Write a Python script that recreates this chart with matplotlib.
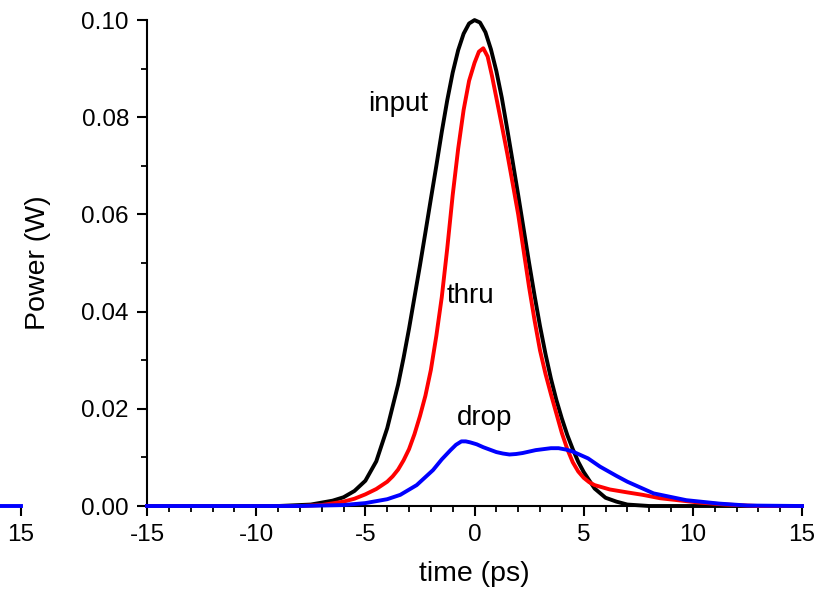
#!/usr/bin/env python
"""Pulse power at input, thru and drop ports."""

import matplotlib.pyplot as plt
from matplotlib.ticker import MultipleLocator, FormatStrFormatter

# values
input_t = [-15, -9, -7.5, -6.5, -6, -5.5, -5, -4.5, -4, -3.5, -3.25, -3, -2.75, -2.5,
           -2.25, -2, -1.75, -1.5, -1.25, -1, -0.75, -0.5, -0.25, 0, 0.25, 0.5, 0.75, 1,
           1.25, 1.5, 1.75, 2, 2.25, 2.5, 2.75, 3, 3.25, 3.5, 3.75, 4, 4.25, 4.5, 4.75, 5,
           5.5, 6, 6.5, 7, 8, 15]
input_p = [0, 0, 0.0003, 0.0011, 0.0018, 0.0031, 0.0052, 0.0092, 0.0160, 0.0250, 0.0305,
           0.0365, 0.0430, 0.0495, 0.0563, 0.0632, 0.0700, 0.0770, 0.0835, 0.0892, 0.0938,
           0.0972, 0.0993, 0.1000, 0.0995, 0.0975, 0.0940, 0.0895, 0.0840, 0.0775, 0.0708,
           0.0640, 0.0570, 0.0500, 0.0433, 0.0370, 0.0313, 0.0262, 0.0218, 0.0180, 0.0146,
           0.0117, 0.0091, 0.0070, 0.0036, 0.0017, 0.0009, 0.0003, 0, 0]

thru_t = [-15, -8, -7, -6, -5.5, -5, -4.5, -4, -3.75, -3.5, -3.25, -3, -2.75, -2.5, -2.25,
          -2, -1.75, -1.5, -1.25, -1, -0.75, -0.5, -0.25, 0, 0.2, 0.4, 0.6, 0.8, 1, 1.25,
          1.5, 1.75, 2, 2.25, 2.5, 2.75, 3, 3.25, 3.5, 3.75, 4, 4.25, 4.5, 4.75, 5, 5.25,
          5.5, 6.2, 7, 7.7, 8.5, 9.3, 10.3, 11.5, 13, 15]
thru_p = [0, 0, 0.0002, 0.0009, 0.0015, 0.0024, 0.0035, 0.0050, 0.0061, 0.0075, 0.0094,
          0.0117, 0.0148, 0.0185, 0.0227, 0.0280, 0.0350, 0.0430, 0.0530, 0.0640, 0.0735,
          0.0815, 0.0875, 0.0912, 0.0935, 0.0942, 0.0925, 0.0885, 0.0840, 0.0783, 0.0725,
          0.0663, 0.0600, 0.0525, 0.0450, 0.0382, 0.0320, 0.0272, 0.0230, 0.0190, 0.0150,
          0.0117, 0.0090, 0.0071, 0.0058, 0.0049, 0.0043, 0.0034, 0.0028, 0.0023, 0.0016,
          0.0012, 0.0007, 0.0003, 0, 0]

drop_t = [-15, -8, -6, -5, -4, -3.4, -2.65, -1.9, -1.5, -1.1, -0.85, -0.6, -0.4, -0.2,
          0.1, 0.4, 0.7, 1, 1.3, 1.6, 1.9, 2.2, 2.5, 2.8, 3.15, 3.5, 3.85, 4.2, 4.5, 4.8,
          5.2, 5.75, 6.5, 7, 8.2, 9.7, 11.2, 12.5, 15]
drop_p = [0, 0, 0.0002, 0.0006, 0.0014, 0.0023, 0.0043, 0.0074, 0.0096, 0.0115, 0.0126,
          0.0133, 0.0133, 0.0131, 0.0127, 0.0121, 0.0116, 0.0111, 0.0108, 0.0106, 0.0107,
          0.0109, 0.0112, 0.0115, 0.0117, 0.0119, 0.0119, 0.0116, 0.0112, 0.0106, 0.0098,
          0.0081, 0.0062, 0.0050, 0.0026, 0.0012, 0.0005, 0.0001, 0]

# tail of the neighbouring panel that is cut off at the left edge
left_t = [5, 15]
left_p = [0, 0]

FONT = "Liberation Sans"


def style_axes(ax):
    ax.set_xlim(-15, 15)
    ax.set_ylim(0, 0.10)
    ax.spines["top"].set_visible(False)
    ax.spines["right"].set_visible(False)
    for side in ("left", "bottom"):
        ax.spines[side].set_linewidth(1.5)
    ax.xaxis.set_major_locator(MultipleLocator(5))
    ax.xaxis.set_minor_locator(MultipleLocator(1))
    ax.yaxis.set_major_locator(MultipleLocator(0.02))
    ax.yaxis.set_minor_locator(MultipleLocator(0.01))
    ax.yaxis.set_major_formatter(FormatStrFormatter("%.2f"))
    ax.tick_params(which="major", direction="out", length=7, width=1.5,
                   labelsize=17.5, pad=6)
    ax.tick_params(which="minor", direction="out", length=4, width=1.3)


def main() -> None:
    plt.rcParams["font.family"] = [FONT, "DejaVu Sans"]
    plt.rcParams["axes.unicode_minus"] = False
    fig = plt.figure(figsize=(8.27, 5.89), dpi=100)

    left = fig.add_axes([21 / 827 - 0.792, 0.1409, 0.792, 0.825])
    style_axes(left)
    left.set_xticks([15])
    left.tick_params(labelleft=False, left=False)
    left.tick_params(which="minor", bottom=False)
    left.plot(left_t, left_p, color="blue", lw=2.8, clip_on=False, zorder=3)

    ax = fig.add_axes([0.1778, 0.1409, 0.792, 0.825])
    style_axes(ax)
    ax.plot(input_t, input_p, color="black", lw=2.8, clip_on=False, zorder=3)
    ax.plot(thru_t, thru_p, color="red", lw=2.8, clip_on=False, zorder=3)
    ax.plot(drop_t, drop_p, color="blue", lw=2.8, clip_on=False, zorder=3)

    ax.text(-3.5, 0.0827, "input", fontsize=20, ha="center", va="center")
    ax.text(-0.2, 0.0432, "thru", fontsize=20, ha="center", va="center")
    ax.text(0.48, 0.0182, "drop", fontsize=20, ha="center", va="center")

    ax.set_xlabel("time (ps)", fontsize=20.5, labelpad=11)
    ax.set_ylabel("Power (W)", fontsize=20.5, labelpad=22)

    fig.savefig("out.png", dpi=100)
    plt.close(fig)


if __name__ == "__main__":
    main()
